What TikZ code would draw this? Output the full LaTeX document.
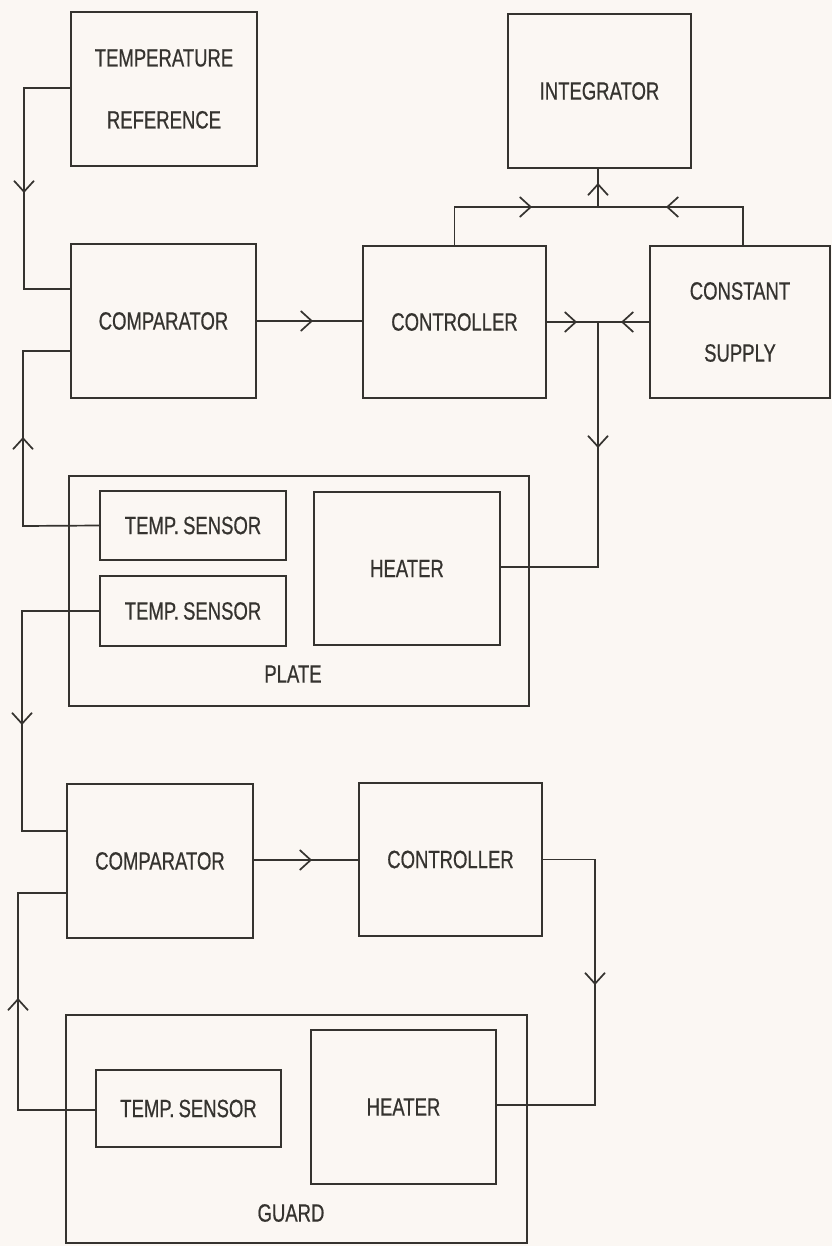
\documentclass[tikz,border=0pt]{standalone}
\usepackage{fontspec}
\setmainfont{Liberation Sans}
\newfontfamily\plotfont[FakeStretch=0.74,FakeBold=0.6]{Liberation Sans}
\usetikzlibrary{arrows.meta}
\definecolor{ink}{HTML}{35332F}
\definecolor{paper}{HTML}{FBF7F3}
\begin{document}
\begin{tikzpicture}[x=1pt,y=-1pt,
  box/.style={draw=ink, line width=1.7pt, inner sep=0pt, text=ink, align=center,
    font=\plotfont\fontsize{25}{62}\selectfont},
  lbl/.style={inner sep=0pt, text=ink, font=\plotfont\fontsize{25}{30}\selectfont},
  wire/.style={draw=ink, line width=1.7pt},
  tip/.style={draw=ink, line width=1.7pt, -{Straight Barb[length=11pt,width=20pt]}}]
\useasboundingbox (0,0) rectangle (832,1246);
\fill[paper] (0,0) rectangle (832,1246);

% boxes
\node[box, minimum width=186pt, minimum height=154pt] (tref) at (164,89) {TEMPERATURE\\REFERENCE};
\node[box, minimum width=183pt, minimum height=154pt] (integ) at (599.5,91) {INTEGRATOR};
\node[box, minimum width=185pt, minimum height=154pt] (comp1) at (163.5,321) {COMPARATOR};
\node[box, minimum width=183pt, minimum height=152pt] (ctrl1) at (454.5,322) {CONTROLLER};
\node[box, minimum width=180pt, minimum height=152pt] (csup) at (740,322) {CONSTANT\\SUPPLY};

\node[box, minimum width=460pt, minimum height=230pt] (plate) at (299,591) {};
\node[lbl] (platel) at (293,674) {PLATE};
\node[box, minimum width=186pt, minimum height=69pt] (ts1) at (193,525.5) {TEMP.\,SENSOR};
\node[box, minimum width=186pt, minimum height=70pt] (ts2) at (193,611) {TEMP.\,SENSOR};
\node[box, minimum width=186pt, minimum height=153pt] (heat1) at (407,568.5) {HEATER};

\node[box, minimum width=186pt, minimum height=154pt] (comp2) at (160,861) {COMPARATOR};
\node[box, minimum width=183pt, minimum height=153pt] (ctrl2) at (450.5,859.5) {CONTROLLER};

\node[box, minimum width=461pt, minimum height=228pt] (guard) at (296.5,1129) {};
\node[lbl] (guardl) at (291,1213) {GUARD};
\node[box, minimum width=185pt, minimum height=77pt] (ts3) at (188.5,1108.5) {TEMP.\,SENSOR};
\node[box, minimum width=185pt, minimum height=154pt] (heat2) at (403.5,1107) {HEATER};

% junction / bend coordinates
\coordinate (jtop) at (598,207);
\coordinate (jmid) at (598,322);

% connectors
\draw[wire] (tref.west |- 0,88) -- (24,88) -- (24,289) -- (comp1.west |- 0,289);
\draw[wire] (comp1.east) -- (ctrl1.west |- comp1.east);
\draw[wire] (ctrl1.north) -- (ctrl1.north |- jtop) -- (743,207) -- (csup.north -| 743,0);
\draw[wire] (integ.south -| jtop) -- (jtop);
\draw[wire] (ctrl1.east) -- (csup.west);
\draw[wire] (jmid) -- (598,567) -- (heat1.east |- 0,567);
\draw[wire] (comp1.west |- 0,351) -- (23,351) -- (23,526) -- (ts1.west);
\draw[wire] (ts2.west) -- (22,611) -- (22,831) -- (comp2.west |- 0,831);
\draw[wire] (comp2.east |- 0,860) -- (ctrl2.west |- 0,860);
\draw[wire] (comp2.west |- 0,893) -- (18,893) -- (18,1110) -- (ts3.west |- 0,1110);
\draw[wire] (ctrl2.east) -- (595,859.5) -- (595,1105) -- (heat2.east |- 0,1105);

% arrowheads
\draw[tip] (24,170) -- (24,193);
\draw[tip] (290,321) -- (313,321);
\draw[tip] (510,207) -- (532,207);
\draw[tip] (690,207) -- (666,207);
\draw[tip] (598,205) -- (598,183);
\draw[tip] (555,322) -- (577,322);
\draw[tip] (645,322) -- (621,322);
\draw[tip] (598,425) -- (598,448);
\draw[tip] (23,460) -- (23,437);
\draw[tip] (22,700) -- (22,725);
\draw[tip] (290,860) -- (312,860);
\draw[tip] (18,1020) -- (18,998);
\draw[tip] (595,960) -- (595,985);
\end{tikzpicture}
\end{document}
